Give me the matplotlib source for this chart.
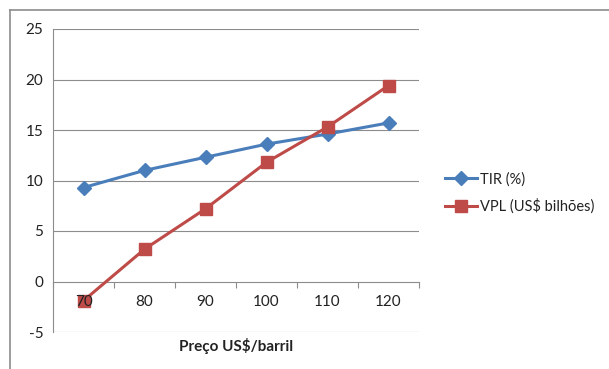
import matplotlib.pyplot as plt
import numpy as np
from matplotlib.lines import Line2D

plt.rcParams['font.family'] = ['Lato', 'DejaVu Sans']
plt.rcParams['axes.unicode_minus'] = False

precos = ['70', '80', '90', '100', '110', '120']
tir = [9.3, 11.0, 12.3, 13.6, 14.6, 15.7]
vpl = [-1.9, 3.2, 7.2, 11.8, 15.3, 19.4]

W, H = 609, 369
fig = plt.figure(figsize=(W / 100, H / 100), dpi=100)
# plot area in pixels: left 53, right 419, top 29 (y=25), bottom 332 (y=-5)
ax = fig.add_axes([53 / W, 1 - 332 / H, (419 - 53) / W, (332 - 29) / H])

x = np.arange(len(precos))
blue = '#4a7ebb'
red = '#be4b48'
grid = '#8c8c8c'

for yv in [-5, 5, 10, 15, 20, 25]:
    ax.axhline(yv, color=grid, lw=0.8, zorder=0)

ax.plot(x, tir, color=blue, lw=2.2, marker='D', ms=7.5, label='TIR (%)',
        zorder=3, clip_on=False)
ax.plot(x, vpl, color=red, lw=2.2, marker='s', ms=8.5, label='VPL (US$ bilhões)',
        zorder=3, clip_on=False)

ax.set_xlim(-0.5, 5.5)
ax.set_ylim(-5, 25)
ax.set_yticks([-5, 0, 5, 10, 15, 20, 25])
ax.tick_params(axis='y', length=0, labelsize=11, colors='#222222', pad=7)

# x axis sits on y=0, ticks at category boundaries
ax.spines['bottom'].set_position(('data', 0))
ax.spines['bottom'].set_color(grid)
ax.spines['left'].set_color(grid)
ax.spines['top'].set_visible(False)
ax.spines['right'].set_visible(False)
ax.set_xticks(np.arange(-0.5, 6, 1))
ax.set_xticklabels([])
ax.tick_params(axis='x', direction='out', length=4, color=grid)
for xi, lab in zip(x, precos):
    ax.annotate(lab, (xi, 0), xytext=(0, -15), textcoords='offset points',
                ha='center', va='center', fontsize=11, color='#222222', zorder=5)

fig.text(236 / W, 1 - 346 / H, 'Preço US$/barril', ha='center', va='center',
         fontsize=11, fontweight='bold', color='#222222')

ax.legend(loc='center left', bbox_to_anchor=(445 / W, 1 - 193 / H),
          bbox_transform=fig.transFigure, frameon=False, fontsize=10.5,
          borderpad=0, borderaxespad=0,
          handlelength=2.2, handletextpad=0.2, labelspacing=0.85,
          labelcolor='#222222')

# outer chart frame (left and top edges visible)
fig.add_artist(Line2D([10 / W, 10 / W], [0, 1 - 10 / H], color='#8c8c8c', lw=1.2))
fig.add_artist(Line2D([10 / W, 1], [1 - 10 / H, 1 - 10 / H], color='#8c8c8c', lw=1.2))

fig.savefig('out.png', dpi=100)
